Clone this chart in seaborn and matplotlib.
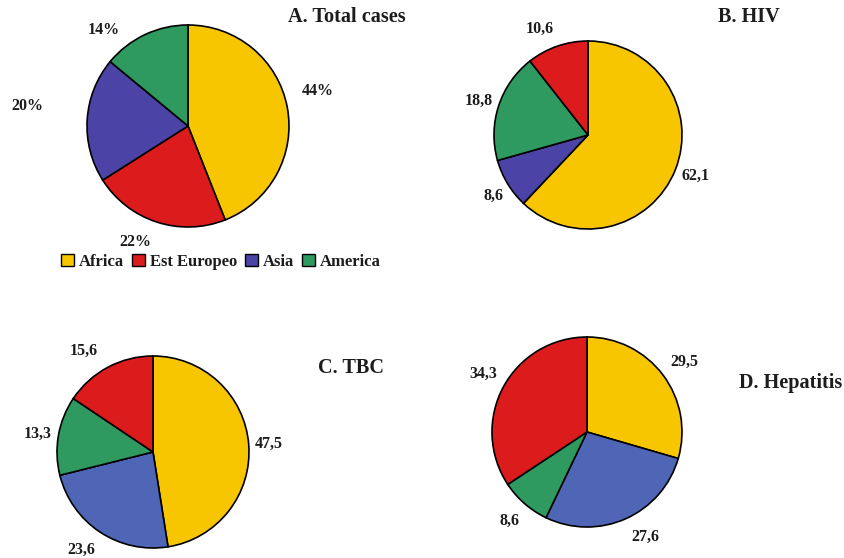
import matplotlib
matplotlib.use("Agg")
import matplotlib.pyplot as plt
from matplotlib.patches import Patch
import seaborn as sns

# ---- data -------------------------------------------------------------
regions = ["Africa", "Est Europeo", "Asia", "America"]

# share of cases per region (clockwise slice order from 12 o'clock)
total_order = ["Africa", "Est Europeo", "Asia", "America"]
total_values = [44, 22, 20, 14]

hiv_order = ["Africa", "Asia", "America", "Est Europeo"]
hiv_values = [62.1, 8.6, 18.8, 10.6]

tbc_order = ["Africa", "Asia", "America", "Est Europeo"]
tbc_values = [47.5, 23.6, 13.3, 15.6]

hep_order = ["Africa", "Asia", "America", "Est Europeo"]
hep_values = [29.5, 27.6, 8.6, 34.3]

panel_titles = ["A. Total cases", "B. HIV", "C. TBC", "D. Hepatitis"]

# ---- styling ----------------------------------------------------------
sns.set_theme(style="white")
plt.rcParams["font.family"] = ["Liberation Serif", "DejaVu Serif"]
plt.rcParams["font.weight"] = "bold"

colors_top = dict(zip(regions, ["#F7C600", "#DC1C1C", "#4B44A6", "#2E9A60"]))
colors_bottom = dict(zip(regions, ["#F7C600", "#DC1C1C", "#4F66B6", "#2E9A60"]))

W, H = 844, 558
fig = plt.figure(figsize=(W / 100, H / 100), dpi=100)
ax = fig.add_axes([0, 0, 1, 1])


def px(x, y):
    """Pixel position (origin top-left) to axes data coordinates."""
    return x, H - y


def fmt_pct(v):
    return f"{v:g}%"


def fmt_dec(v):
    return f"{v:.1f}".replace(".", ",")


# layout: pie centre/radius, label offsets from centre, title anchor
panels = [
    dict(order=total_order, values=total_values, colors=colors_top, fmt=fmt_pct,
         center=(188, 126), radius=101,
         label_pos=[(130, -35), (-53, 116), (-161, -20), (-84, -96)],
         title_pos=(288, 17)),
    dict(order=hiv_order, values=hiv_values, colors=colors_top, fmt=fmt_dec,
         center=(588, 135), radius=94,
         label_pos=[(108, 41), (-94, 61), (-109, -34), (-48, -106)],
         title_pos=(718, 17)),
    dict(order=tbc_order, values=tbc_values, colors=colors_bottom, fmt=fmt_dec,
         center=(153, 452), radius=96,
         label_pos=[(116, -8), (-72, 98), (-115, -18), (-69, -101)],
         title_pos=(318, 368)),
    dict(order=hep_order, values=hep_values, colors=colors_bottom, fmt=fmt_dec,
         center=(587, 432), radius=95,
         label_pos=[(97, -70), (58, 105), (-77, 89), (-104, -58)],
         title_pos=(739, 383)),
]

for p, title in zip(panels, panel_titles):
    cx, cy = px(*p["center"])
    ax.pie(
        p["values"],
        colors=[p["colors"][r] for r in p["order"]],
        startangle=90,
        counterclock=False,
        center=(cx, cy),
        radius=p["radius"],
        wedgeprops=dict(edgecolor="black", linewidth=1.2),
        frame=True,
    )
    for v, (dx, dy) in zip(p["values"], p["label_pos"]):
        ax.text(cx + dx, cy - dy, p["fmt"](v), ha="center", va="center",
                fontsize=11.5, fontweight="bold", color="#1c1c1c")
    tx, ty = px(*p["title_pos"])
    ax.text(tx, ty, title, ha="left", va="center", fontsize=14.6,
            fontweight="bold", color="#1c1c1c")

ax.set_xlim(0, W)
ax.set_ylim(0, H)
ax.set_aspect("equal")
ax.axis("off")

handles = [Patch(facecolor=colors_top[r], edgecolor="black", linewidth=1.0, label=r)
           for r in regions]
lx, ly = px(221, 262)
leg = ax.legend(handles=handles, loc="center", bbox_to_anchor=(lx, ly),
                bbox_transform=ax.transData, ncol=4, frameon=False,
                prop=dict(family="Liberation Serif", weight="bold", size=12),
                handlelength=0.75, handleheight=0.75, handletextpad=0.3,
                columnspacing=0.5, borderpad=0, borderaxespad=0)
for t in leg.get_texts():
    t.set_color("#1c1c1c")

fig.savefig("out.png", dpi=100, facecolor="white")
